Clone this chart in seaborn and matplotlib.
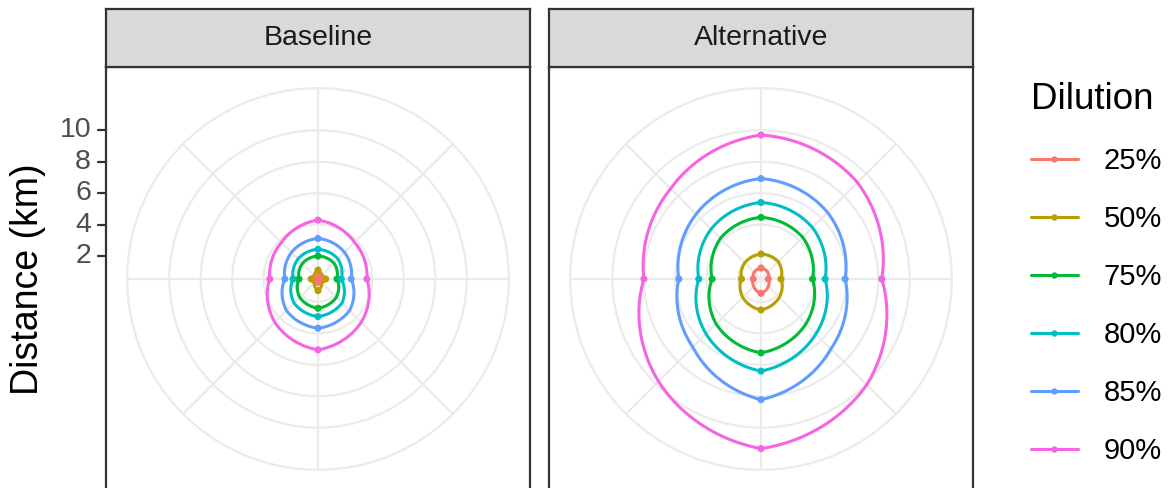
import numpy as np
import pandas as pd
import matplotlib
matplotlib.use("Agg")
import matplotlib.pyplot as plt
import seaborn as sns
from matplotlib.lines import Line2D

# ---------------- data ----------------
facets = ["Baseline", "Alternative"]
dilutions = ["25%", "50%", "75%", "80%", "85%", "90%"]
palette = ["#F8766D", "#B79F00", "#00BA38", "#00BFC4", "#619CFF", "#F564E3"]
angles_deg = [0, 45, 90, 135, 180, 225, 270, 315]
r_ticks = [2, 4, 6, 8, 10]

baseline_25 = [0.79, 0.60, 0.73, 0.60, 0.76, 0.60, 0.73, 0.54]
baseline_50 = [1.11, 0.86, 1.03, 0.86, 1.28, 0.86, 0.97, 0.86]
baseline_75 = [2.00, 1.97, 1.75, 2.19, 2.40, 2.19, 1.75, 1.94]
baseline_80 = [2.43, 2.34, 2.02, 2.70, 2.93, 2.70, 2.13, 2.34]
baseline_85 = [3.12, 2.93, 2.65, 3.38, 3.67, 3.38, 2.65, 2.93]
baseline_90 = [4.29, 3.83, 3.65, 4.43, 5.05, 4.43, 3.61, 3.83]

alternative_25 = [1.24, 1.15, 1.00, 1.20, 1.45, 1.20, 1.03, 1.15]
alternative_50 = [2.13, 2.10, 1.81, 2.19, 2.51, 2.19, 1.78, 2.00]
alternative_75 = [4.46, 4.29, 3.82, 4.58, 5.24, 4.58, 3.65, 4.19]
alternative_80 = [5.41, 5.17, 4.62, 5.48, 6.40, 5.48, 4.50, 5.03]
alternative_85 = [6.93, 6.53, 5.89, 6.83, 8.22, 6.67, 5.77, 6.38]
alternative_90 = [9.70, 9.22, 8.22, 10.06, 11.33, 9.76, 7.99, 8.67]

series = {
    "Baseline": [baseline_25, baseline_50, baseline_75, baseline_80, baseline_85, baseline_90],
    "Alternative": [alternative_25, alternative_50, alternative_75, alternative_80, alternative_85, alternative_90],
}

rows = []
for f in facets:
    for dil, vals in zip(dilutions, series[f]):
        for a, v in zip(angles_deg, vals):
            rows.append((f, dil, a, v))
        rows.append((f, dil, 360, vals[0]))  # close the path
df = pd.DataFrame(rows, columns=["facet", "Dilution", "angle", "dist"])
df["theta"] = np.deg2rad(df["angle"])

R0 = df["dist"].min()
Rmax = df["dist"].max()
Rtop = R0 + (Rmax - R0) * 1.125

# ---------------- style ----------------
sns.set_style("white")
plt.rcParams["font.family"] = ["Liberation Sans", "DejaVu Sans"]

W, H = 1171, 488
fig = plt.figure(figsize=(W / 100, H / 100), dpi=100)

def fx(px):
    return px / W

def fy(py):
    return 1 - py / H

panel_lefts = [106, 549]
panel_top = 67
size = 424
strip_top = 9
border = "#333333"

polar_axes = []
for f, left in zip(facets, panel_lefts):
    # panel frame
    fr = fig.add_axes([fx(left), fy(panel_top + size), size / W, size / H])
    fr.set_xticks([]); fr.set_yticks([])
    fr.set_facecolor("white")
    for s in fr.spines.values():
        s.set_color(border); s.set_linewidth(1.6)
    # strip
    st = fig.add_axes([fx(left), fy(panel_top), size / W, (panel_top - strip_top) / H])
    st.set_xticks([]); st.set_yticks([])
    st.set_facecolor("#D9D9D9")
    for s in st.spines.values():
        s.set_color(border); s.set_linewidth(1.6)
    st.text(0.5, 0.5, f, ha="center", va="center", fontsize=20.5, color="#1A1A1A",
            transform=st.transAxes)

    # polar axes
    cx, cy = left + size / 2, panel_top + size / 2
    D = 0.9 * size
    ax = fig.add_axes([fx(cx - D / 2), fy(cy + D / 2), D / W, D / H], projection="polar")
    ax.set_facecolor("none")
    ax.set_theta_zero_location("N")
    ax.set_theta_direction(-1)

    sub = df[df["facet"] == f]
    sns.lineplot(data=sub, x="theta", y="dist", hue="Dilution", hue_order=dilutions,
                 palette=palette, estimator=None, sort=True, linewidth=2.2,
                 legend=False, ax=ax)
    pts = sub[(sub["angle"] % 90 == 0) & (sub["angle"] < 360)]
    sns.scatterplot(data=pts, x="theta", y="dist", hue="Dilution", hue_order=dilutions,
                    palette=palette, s=26, linewidth=0, legend=False, ax=ax, zorder=3)
    for ln in ax.lines:
        ln.get_path()._interpolation_steps = 60

    ax.set_xlim(0, 2 * np.pi)
    ax.set_ylim(R0, Rtop)
    ax.set_xticks(np.deg2rad(np.arange(0, 360, 45)))
    ax.set_xticklabels([])
    ax.set_yticks(r_ticks)
    ax.set_yticklabels([])
    ax.tick_params(length=0)
    ax.set_xlabel(""); ax.set_ylabel("")
    ax.grid(True, color="#EBEBEB", linewidth=1.6)
    ax.set_axisbelow(True)
    ax.spines["polar"].set_color("#EBEBEB")
    ax.spines["polar"].set_linewidth(1.6)
    polar_axes.append(ax)

# y-axis ticks and labels (left of first panel)
inv = fig.transFigure.inverted()
for v in r_ticks:
    yd = polar_axes[0].transData.transform((0.0, v))
    yf = inv.transform(yd)[1]
    fig.add_artist(Line2D([fx(98), fx(106)], [yf, yf], transform=fig.transFigure,
                          color=border, linewidth=1.6))
    fig.text(fx(91), yf, str(v), ha="right", va="center", fontsize=20.5, color="#4D4D4D")

fig.text(fx(28), fy(279), "Distance (km)", rotation=90, ha="center", va="center",
         fontsize=27, color="black")

# legend
handles = [Line2D([0], [0], color=c, linewidth=2.2, marker="o", markersize=4.6,
                  markeredgewidth=0) for c in palette]
leg = fig.legend(handles, dilutions, title="Dilution", loc="upper left",
                 bbox_to_anchor=(fx(1031), fy(82)), frameon=False, fontsize=21,
                 title_fontsize=26.5, handlelength=1.6, handletextpad=0.9,
                 labelspacing=1.03, alignment="left", borderaxespad=0, borderpad=0)
for t in leg.get_texts():
    t.set_color("black")
leg.get_title().set_color("black")

fig.savefig("out.png", dpi=100)
